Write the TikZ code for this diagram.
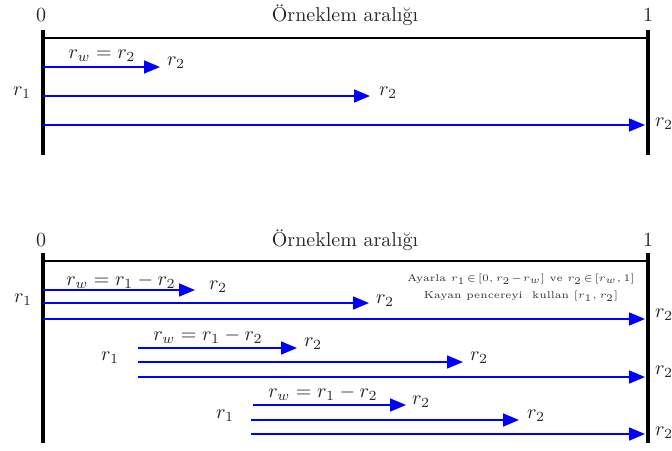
\documentclass[tikz,border=0pt]{standalone}
\usepackage{fontspec}
\usetikzlibrary{arrows.meta}
\newcommand\mytightmath{\thickmuskip=2mu\relax\medmuskip=1mu\relax}
\begin{document}
\begin{tikzpicture}[x=0.5pt,y=-0.5pt,
  bar/.style={line width=1.7pt},
  topline/.style={line width=0.9pt},
  arr/.style={blue, line width=0.8pt, -{Triangle[length=8pt,width=6.5pt]}},
  lbl/.style={inner sep=0pt, text=black!85},
  note/.style={inner sep=0pt, font=\fontsize{5}{8.5}\selectfont, align=center, text=black!80}]
\useasboundingbox (0,0) rectangle (672,450);
% ---------- top panel ----------
\coordinate (aTL) at (43,30); \coordinate (aBL) at (43,155);
\coordinate (aTR) at (648,30); \coordinate (aBR) at (648,155);
\coordinate (aHL) at (43,38); \coordinate (aHR) at (648,38);
\draw[bar] (aTL) -- (aBL);
\draw[bar] (aTR) -- (aBR);
\draw[topline] (aHL) -- (aHR);
\node[lbl] (az) at (41,15) {0};
\node[lbl] (ao) at (648,15) {1};
\node[lbl] (at) at (345,15) {Örneklem aralığı};
\node[lbl] (ar1) at (22,93) {$r_1$};
\coordinate (a1s) at (43,67);  \coordinate (a1e) at (160,67);
\coordinate (a2s) at (43,96);  \coordinate (a2e) at (370,96);
\coordinate (a3s) at (43,125); \coordinate (a3e) at (645,125);
\draw[arr] (a1s) -- (a1e);
\draw[arr] (a2s) -- (a2e);
\draw[arr] (a3s) -- (a3e);
\node[lbl] (a1w) at (102,56) {$r_w = r_2$};
\node[lbl] (a1r) at (176,63) {$r_2$};
\node[lbl] (a2r) at (388,93) {$r_2$};
\node[lbl] (a3r) at (664,124) {$r_2$};
% ---------- bottom panel ----------
\coordinate (bTL) at (43,253); \coordinate (bBL) at (43,443);
\coordinate (bTR) at (648,253); \coordinate (bBR) at (648,443);
\coordinate (bHL) at (43,261); \coordinate (bHR) at (648,261);
\draw[bar] (bTL) -- (bBL);
\draw[bar] (bTR) -- (bBR);
\draw[topline] (bHL) -- (bHR);
\node[lbl] (bz) at (41,240) {0};
\node[lbl] (bo) at (648,240) {1};
\node[lbl] (bt) at (345,240) {Örneklem aralığı};
\node[note] (bn) at (521,288) {\mytightmath Ayarla $r_1\in[0,r_2-r_w]$ ve $r_2\in[r_w,1]$\\\mytightmath Kayan pencereyi\ \ kullan $[r_1,r_2]$};
% group 1
\node[lbl] (g1r1) at (23,300) {$r_1$};
\coordinate (g1as) at (43,290);  \coordinate (g1ae) at (195,290);
\coordinate (g1bs) at (43,303);  \coordinate (g1be) at (369,303);
\coordinate (g1cs) at (43,319);  \coordinate (g1ce) at (645,319);
\draw[arr] (g1as) -- (g1ae);
\draw[arr] (g1bs) -- (g1be);
\draw[arr] (g1cs) -- (g1ce);
\node[lbl] (g1w) at (121,281) {$r_w = r_1 - r_2$};
\node[lbl] (g1ar) at (218,287) {$r_2$};
\node[lbl] (g1br) at (385,301) {$r_2$};
\node[lbl] (g1cr) at (664,315) {$r_2$};
% group 2
\node[lbl] (g2r1) at (110,358) {$r_1$};
\coordinate (g2as) at (138,348);  \coordinate (g2ae) at (297,348);
\coordinate (g2bs) at (138,362);  \coordinate (g2be) at (463,362);
\coordinate (g2cs) at (138,377);  \coordinate (g2ce) at (645,377);
\draw[arr] (g2as) -- (g2ae);
\draw[arr] (g2bs) -- (g2be);
\draw[arr] (g2cs) -- (g2ce);
\node[lbl] (g2w) at (208,336) {$r_w = r_1 - r_2$};
\node[lbl] (g2ar) at (313,344) {$r_2$};
\node[lbl] (g2br) at (479,358) {$r_2$};
\node[lbl] (g2cr) at (664,372) {$r_2$};
% group 3
\node[lbl] (g3r1) at (225,416) {$r_1$};
\coordinate (g3as) at (253,405);  \coordinate (g3ae) at (406,405);
\coordinate (g3bs) at (251,420);  \coordinate (g3be) at (519,420);
\coordinate (g3cs) at (251,434);  \coordinate (g3ce) at (645,434);
\draw[arr] (g3as) -- (g3ae);
\draw[arr] (g3bs) -- (g3be);
\draw[arr] (g3cs) -- (g3ce);
\node[lbl] (g3w) at (323,393) {$r_w = r_1 - r_2$};
\node[lbl] (g3ar) at (421,402) {$r_2$};
\node[lbl] (g3br) at (536,416) {$r_2$};
\node[lbl] (g3cr) at (664,433) {$r_2$};
\end{tikzpicture}
\end{document}
